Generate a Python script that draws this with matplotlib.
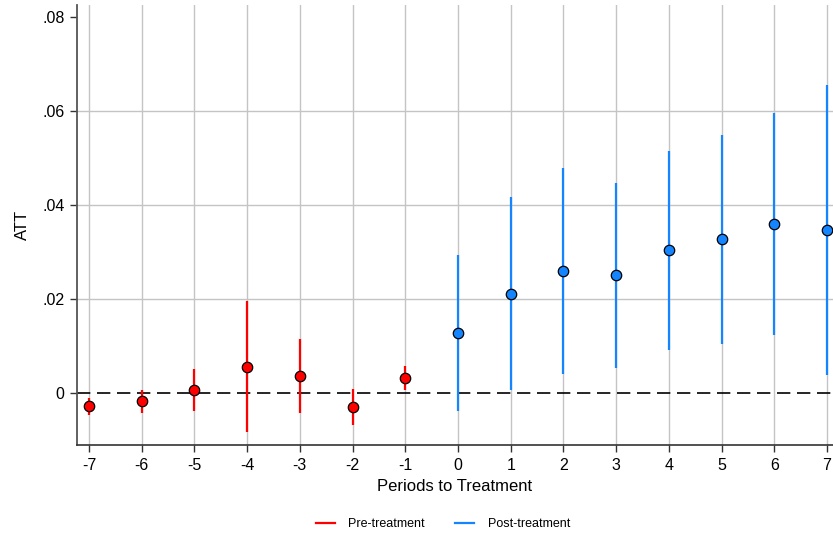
import matplotlib
matplotlib.use("Agg")
import matplotlib.pyplot as plt
from matplotlib.lines import Line2D

# --------- DATA ---------
pre_periods = [-7, -6, -5, -4, -3, -2, -1]
pre_att = [-0.0028, -0.0018, 0.0006, 0.0056, 0.0036, -0.0029, 0.0032]
pre_lo = [-0.0047, -0.0042, -0.0039, -0.0084, -0.0043, -0.0068, 0.0006]
pre_hi = [-0.0011, 0.0006, 0.0052, 0.0196, 0.0115, 0.0009, 0.0057]

post_periods = [0, 1, 2, 3, 4, 5, 6, 7]
post_att = [0.0128, 0.0211, 0.0260, 0.0251, 0.0304, 0.0327, 0.0360, 0.0347]
post_lo = [-0.0038, 0.0006, 0.0041, 0.0053, 0.0092, 0.0105, 0.0123, 0.0038]
post_hi = [0.0294, 0.0416, 0.0479, 0.0447, 0.0515, 0.0549, 0.0596, 0.0655]

x_ticks = list(range(-7, 8))
y_ticks = [0, 0.02, 0.04, 0.06, 0.08]
y_labels = ["0", ".02", ".04", ".06", ".08"]

PRE_COLOR = "#ff0000"
POST_COLOR = "#1585ff"

plt.rcParams["font.family"] = ["Liberation Sans", "DejaVu Sans"]

# --------- PLOT ---------
fig = plt.figure(figsize=(8.33, 5.35), dpi=100)
ax = fig.add_axes([77 / 833, 1 - 445 / 535, 1 - 77 / 833, (445 - 4.5) / 535])

for xv in x_ticks:
    ax.axvline(xv, color="#c4c4c4", lw=1.0, zorder=0)
for yv in [0.02, 0.04, 0.06]:
    ax.axhline(yv, color="#c4c4c4", lw=1.0, zorder=0)

ax.axhline(0, color="black", lw=1.2, dashes=(8, 4), zorder=1)

ax.vlines(pre_periods, pre_lo, pre_hi, color=PRE_COLOR, lw=1.6, zorder=2)
ax.vlines(post_periods, post_lo, post_hi, color=POST_COLOR, lw=1.6, zorder=2)
ax.plot(pre_periods, pre_att, "o", ms=7.5, mfc=PRE_COLOR, mec="black", mew=0.9, zorder=3)
ax.plot(post_periods, post_att, "o", ms=7.5, mfc=POST_COLOR, mec="black", mew=0.9, zorder=3)

ax.set_xlim(-7.228, 7.114)
ax.set_ylim(-0.01106, 0.08266)
ax.set_xticks(x_ticks)
ax.set_xticklabels([str(v) for v in x_ticks])
ax.set_yticks(y_ticks)
ax.set_yticklabels(y_labels)
ax.tick_params(axis="both", labelsize=11.5, length=5, width=1.0, color="#333333", pad=4)

for side in ["top", "right"]:
    ax.spines[side].set_visible(False)
ax.spines["left"].set_color("#555555")
ax.spines["left"].set_linewidth(1.3)
ax.spines["bottom"].set_color("#333333")
ax.spines["bottom"].set_linewidth(1.2)

ax.set_xlabel("Periods to Treatment", fontsize=12, labelpad=5)
ax.set_ylabel("ATT", fontsize=12, labelpad=9)

handles = [Line2D([0], [0], color=PRE_COLOR, lw=1.6),
           Line2D([0], [0], color=POST_COLOR, lw=1.6)]
fig.legend(handles, ["Pre-treatment", "Post-treatment"], loc="center",
           bbox_to_anchor=(443 / 833, 1 - 524 / 535), ncol=2, frameon=False,
           fontsize=9, handlelength=1.5, handletextpad=1.1, columnspacing=2.4)

plt.savefig("out.png", dpi=100)
plt.close()
